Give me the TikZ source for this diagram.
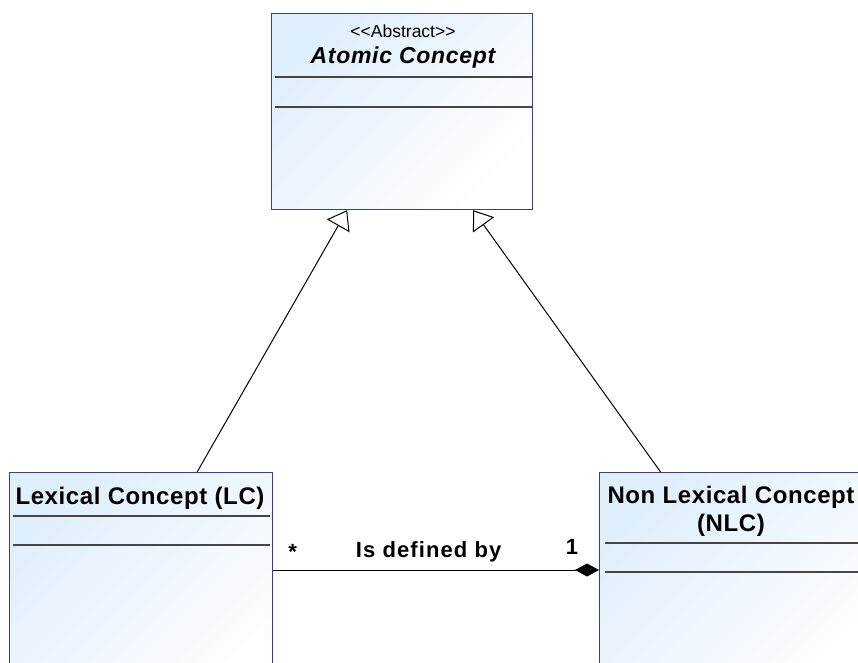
\documentclass[tikz,border=0pt]{standalone}
\usepackage{fontspec}
\setmainfont{Liberation Sans}
\usetikzlibrary{arrows.meta,positioning}

\definecolor{boxline}{RGB}{62,62,120}
\definecolor{boxfill}{RGB}{224,239,252}
\definecolor{sepgray}{RGB}{70,70,70}

\tikzset{
	classbox/.style={rectangle, draw=boxline, line width=1.2pt, top color=boxfill, bottom color=white, shading angle=45, anchor=north west, inner sep=0pt},
	sepline/.style={draw=sepgray, line width=1.2pt},
	classname/.style={inner sep=0pt, font=\fontsize{24}{28}\selectfont\bfseries\addfontfeatures{LetterSpace=2.5}},
	abstractname/.style={inner sep=0pt, font=\fontsize{23}{28}\selectfont\bfseries\itshape\addfontfeatures{LetterSpace=3}},
	stereo/.style={inner sep=0pt, font=\fontsize{17.5}{20}\selectfont},
	assoclabel/.style={inner sep=0pt, font=\fontsize{22}{26}\selectfont\bfseries\addfontfeatures{LetterSpace=5}},
	gen/.style={line width=1pt, -{Triangle[open, fill=white, length=18pt, width=26pt]}},
	assoc/.style={line width=1pt, -{Diamond[length=24pt, width=13pt]}}
}

\begin{document}
\begin{tikzpicture}[x=1pt, y=-1pt]
		\useasboundingbox (0,0) rectangle (858,662);
		
		% classes
		\node[classbox, minimum width=261, minimum height=196] (atomic) at (271,13) {};
		\node[classbox, minimum width=263, minimum height=250] (lc) at (9,472) {};
		\node[classbox, minimum width=264, minimum height=250] (nlc) at (599,472) {};
		
		\draw[sepline] (275,77) to (532,77);
		\draw[sepline] (275,107) to (532,107);
		\draw[sepline] (13,516) to (270,516);
		\draw[sepline] (13,545) to (270,545);
		\draw[sepline] (605,543) to (863,543);
		\draw[sepline] (605,572) to (863,572);
		
		\node[stereo] (atomicstereo) at (403,31) {<\kern0pt<Abstract>\kern0pt>};
		\node[abstractname] (atomicname) at (403,58) {Atomic Concept};
		\node[classname] (lcname) at (140,498) {Lexical Concept (LC)};
		\node[classname, align=center] (nlcname) at (731,511) {Non Lexical Concept\\(NLC)};
		
		% generalizations
		\draw[gen] ([xshift=56]lc.north) to ([xshift=-55]atomic.south);
		\draw[gen] ([xshift=-71]nlc.north) to ([xshift=71]atomic.south);
		
		% association
		\draw[assoc] (lc.east |- 0,570) to
			node[pos=0.06, yshift=18, assoclabel] (lcmult) {*}
			node[pos=0.477, yshift=18, assoclabel] (assocname) {Is defined by}
			node[pos=0.917, yshift=23, assoclabel] (nlcmult) {1}
			(nlc.west |- 0,570);
	\end{tikzpicture}
\end{document}
